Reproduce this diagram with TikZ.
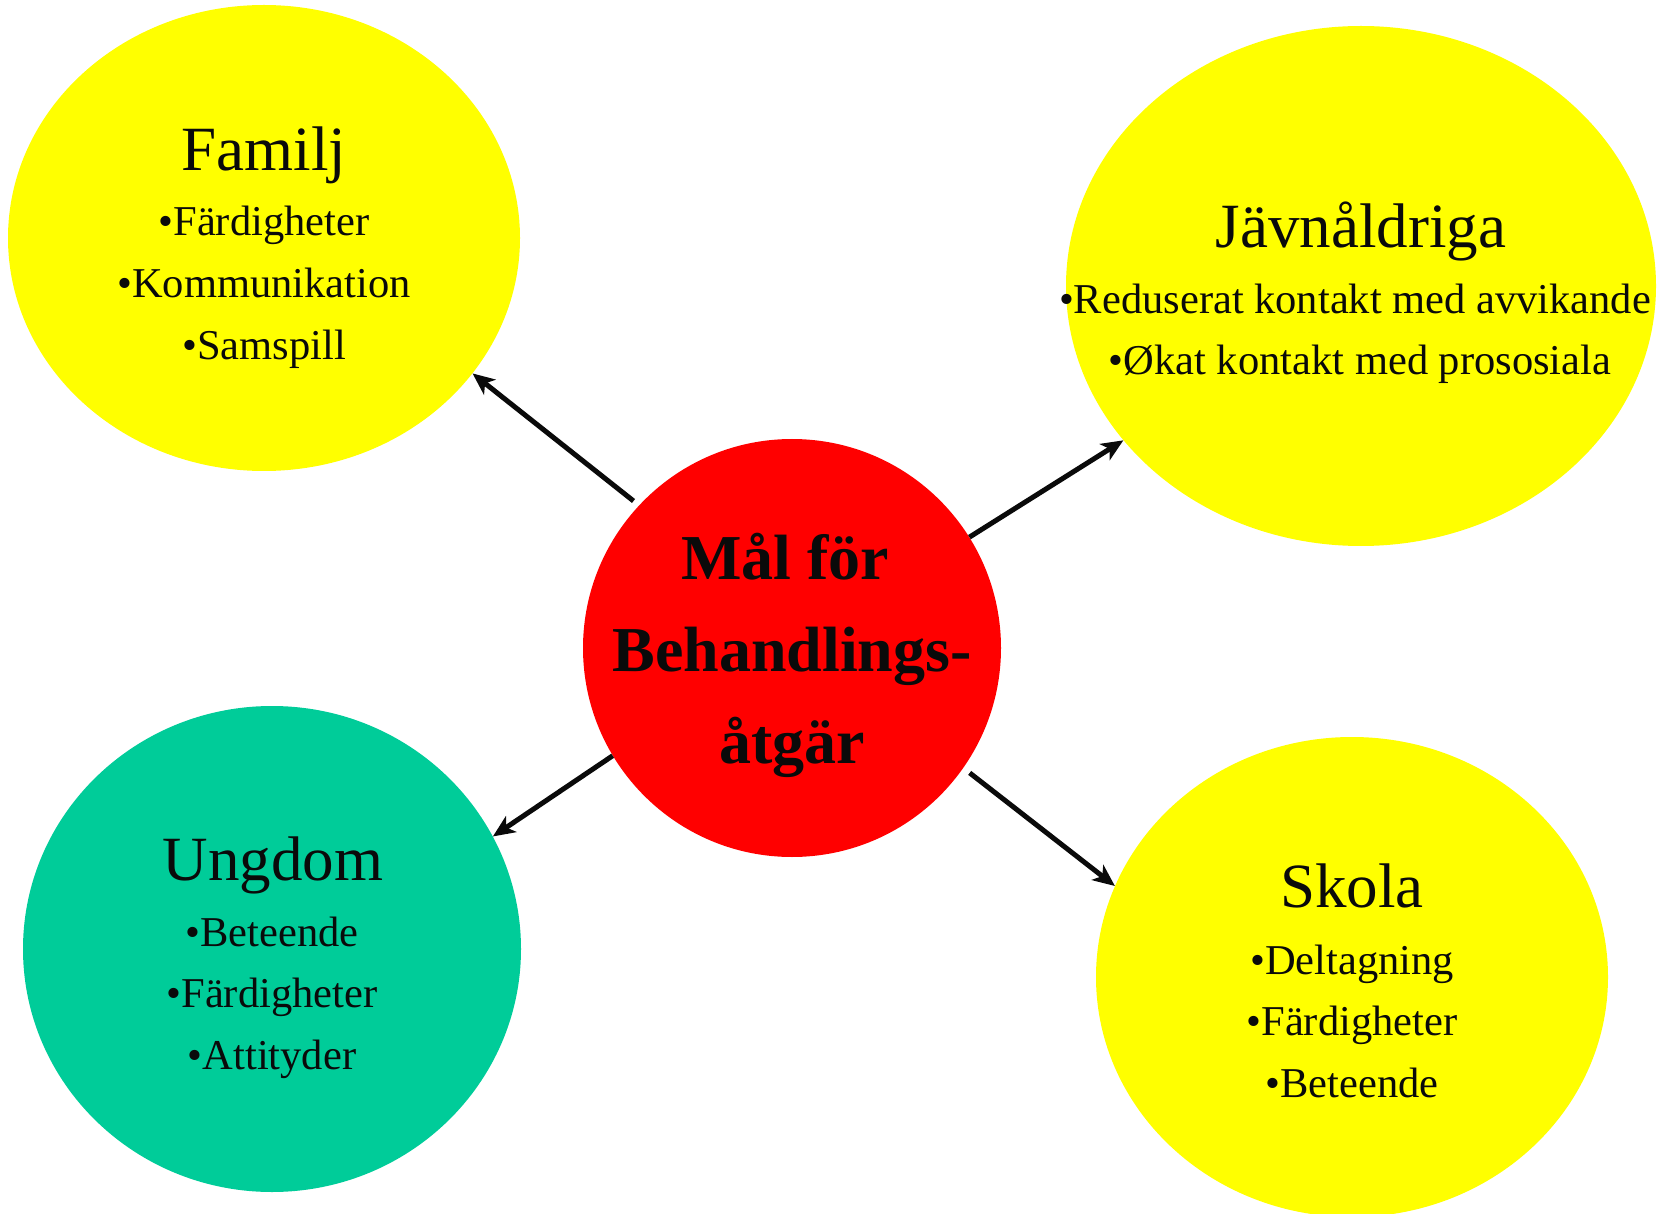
\documentclass[tikz,border=0pt]{standalone}
\usepackage{fontspec}
\setmainfont{Liberation Serif}
\usetikzlibrary{shapes.geometric,arrows.meta}

\definecolor{bubbleyellow}{RGB}{255,255,0}
\definecolor{goalred}{RGB}{255,0,0}
\definecolor{youthgreen}{RGB}{0,204,153}
\definecolor{inktext}{RGB}{10,10,10}

\tikzset{
  bubble/.style={ellipse, draw=none, inner sep=0pt},
  title/.style={anchor=base, inner sep=0pt, text=inktext, font=\fontsize{63}{63}\selectfont},
  item/.style={anchor=base, inner sep=0pt, text=inktext, font=\fontsize{42.5}{42.5}\selectfont},
  goaltext/.style={anchor=base, inner sep=0pt, text=inktext, font=\fontsize{64}{64}\selectfont\bfseries},
  conn/.style={line width=5pt, draw=inktext, -{Stealth[length=22pt,width=19pt,inset=6pt]}}
}

\begin{document}
\begin{tikzpicture}[x=1pt, y=-1pt]
\useasboundingbox (0,0) rectangle (1658,1214);

% the five bubbles
\node[bubble, fill=bubbleyellow, minimum width=512pt, minimum height=466pt] (fam) at (264,238) {};
\node[bubble, fill=bubbleyellow, minimum width=590pt, minimum height=520pt] (peer) at (1361,286) {};
\node[bubble, fill=youthgreen, minimum width=498pt, minimum height=486pt] (youth) at (272,949) {};
\node[bubble, fill=bubbleyellow, minimum width=512pt, minimum height=480pt] (school) at (1352,977) {};
\node[circle, fill=goalred, draw=none, inner sep=0pt, minimum size=418pt] (goal) at (792,648) {};

% Familj
\node[title] (famT) at (264,171) {Familj};
\node[item] (famA) at (264,236) {•Färdigheter};
\node[item] (famB) at (264,298) {•Kommunikation};
\node[item] (famC) at (264,360) {•Samspill};

% Jävnåldriga
\node[title] (peerT) at (1361,248) {Jävnåldriga};
\node[item] (peerA) at (1355,314) {•Reduserat kontakt med avvikande};
\node[item] (peerB) at (1360,375) {•Økat kontakt med prososiala};

% Ungdom
\node[title] (youthT) at (273,880) {Ungdom};
\node[item] (youthA) at (272,946) {•Beteende};
\node[item] (youthB) at (272,1007) {•Färdigheter};
\node[item] (youthC) at (272,1069) {•Attityder};

% Skola
\node[title] (schoolT) at (1352,907) {Skola};
\node[item] (schoolA) at (1352,974) {•Deltagning};
\node[item] (schoolB) at (1352,1035) {•Färdigheter};
\node[item] (schoolC) at (1352,1097) {•Beteende};

% centre goal
\node[goaltext] (goalA) at (785,579) {Mål för};
\node[goaltext] (goalB) at (792,671) {Behandlings-};
\node[goaltext] (goalC) at (792,763) {åtgär};

% connectors from the goal to each area
\draw[conn, shorten <=7pt] (goal.137.8) -- (fam.-33.2);
\draw[conn] (goal.32.8) -- (peer.213.7);
\draw[conn] (goal.211.9) -- (youth.27.2);
\draw[conn, shorten <=8pt] (goal.-35.7) -- (school.159.3);
\end{tikzpicture}
\end{document}
